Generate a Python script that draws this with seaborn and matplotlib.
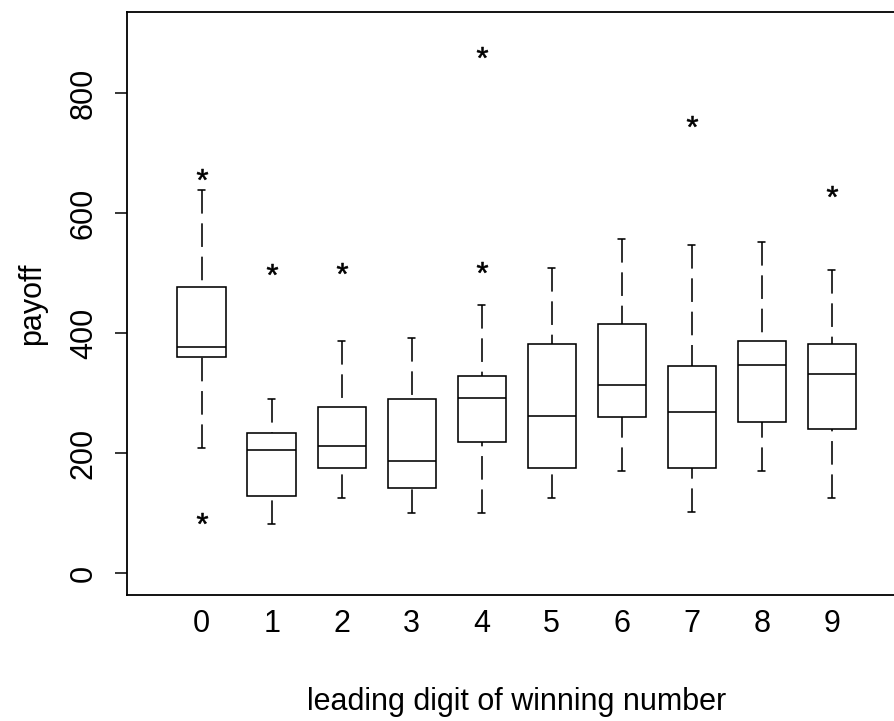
import matplotlib
matplotlib.use("Agg")
import pandas as pd
import matplotlib.pyplot as plt
import seaborn as sns

# -----------------------------------------
# values
# -----------------------------------------
digits = ["0", "1", "2", "3", "4", "5", "6", "7", "8", "9"]
lower_whisker = [209, 82, 126, 101, 101, 126, 170, 103, 170, 126]
q1 = [361, 129, 175, 143, 219, 176, 261, 175, 253, 240]
median = [377, 206, 212, 188, 293, 263, 314, 269, 347, 333]
q3 = [478, 234, 277, 290, 329, 383, 416, 346, 387, 383]
upper_whisker = [639, 291, 387, 393, 447, 509, 558, 548, 553, 506]
low_outliers = [[92], [], [], [], [], [], [], [], [], []]
high_outliers = [[666], [508], [509], [], [511, 868], [], [], [754], [], [637]]

# rebuild a 13-value sample per digit that gives exactly these
# quartiles / whiskers / outliers under the usual 1.5*IQR rule
rows = []
for i, d in enumerate(digits):
    low = low_outliers[i] + [lower_whisker[i]]
    low = low + [q1[i]] * (3 - len(low))
    high = [upper_whisker[i]] + high_outliers[i]
    high = [q3[i]] * (3 - len(high)) + high
    mid = [q1[i], q1[i], median[i], median[i], median[i], q3[i], q3[i]]
    for v in low + mid + high:
        rows.append({"digit": d, "payoff": v})
df = pd.DataFrame(rows)

# -----------------------------------------
# style
# -----------------------------------------
sns.set_style("white")
plt.rcParams["font.family"] = ["Liberation Sans", "DejaVu Sans"]
plt.rcParams["mathtext.fontset"] = "custom"
plt.rcParams["mathtext.rm"] = "Liberation Sans"
plt.rcParams["mathtext.default"] = "regular"
plt.rcParams["lines.scale_dashes"] = False
for key in ["text.color", "axes.labelcolor", "xtick.color", "ytick.color"]:
    plt.rcParams[key] = "black"

fig = plt.figure(figsize=(8.95, 7.21), dpi=100)
ax = fig.add_axes([0.1416, 0.1748, 0.8714, 0.8090])

sns.boxplot(
    data=df, x="digit", y="payoff", order=digits,
    color="white", linecolor="black", linewidth=1.15,
    width=0.69, whis=1.5, capwidths=0.1,
    whiskerprops=dict(linestyle=(0, (17, 7))),
    flierprops=dict(marker="$*$", markersize=8, markerfacecolor="black",
                    markeredgecolor="black", markeredgewidth=0.4),
    ax=ax,
)

# R draws whiskers from the staple toward the box
for line in ax.lines:
    if line.get_linestyle() == "--":
        xd, yd = line.get_data()
        line.set_data(xd[::-1], yd[::-1])

ax.set_xlim(-1.07, 10.07)
ax.set_ylim(-36, 936)
ax.set_yticks([0, 200, 400, 600, 800])

ax.tick_params(axis="x", length=0, pad=10, labelsize=22)
ax.tick_params(axis="y", length=8.6, width=1.1, direction="out",
               labelrotation=90, pad=11.5, labelsize=22, left=True)
for lab in ax.get_yticklabels():
    lab.set_va("center")

for sp in ax.spines.values():
    sp.set_visible(True)
    sp.set_color("black")
    sp.set_linewidth(1.3)

ax.set_xlabel("leading digit of winning number", fontsize=22)
ax.set_ylabel("payoff", fontsize=22)
ax.xaxis.set_label_coords(0.5, -0.1835)
ax.xaxis.label.set_va("center")
ax.yaxis.set_label_coords(-0.1214, 0.5)
ax.yaxis.label.set_va("center")

fig.savefig("out.png", dpi=100)
